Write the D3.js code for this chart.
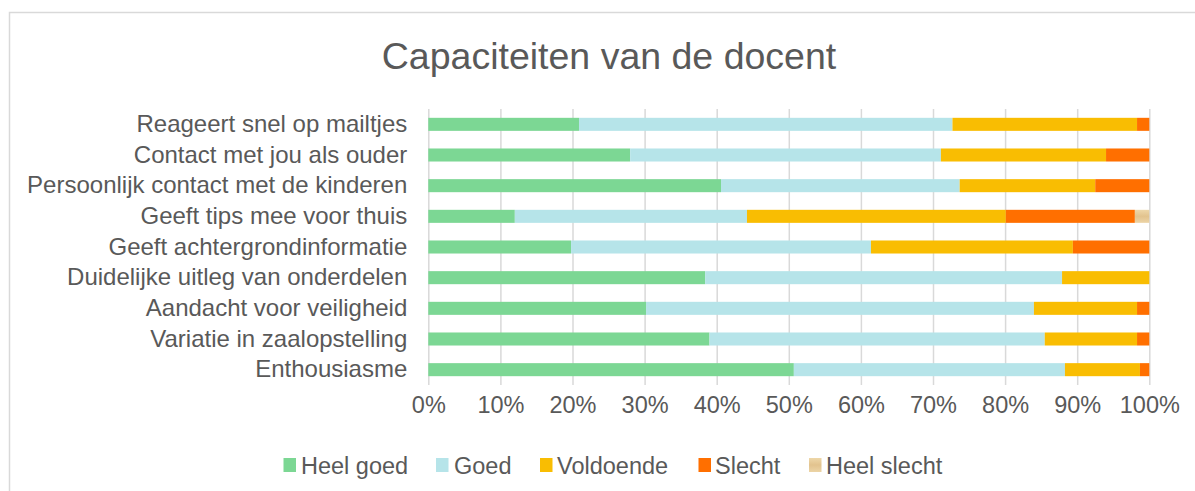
<!DOCTYPE html>
<html>
<head>
<meta charset="utf-8">
<script src="https://cdn.jsdelivr.net/npm/d3@7"></script>
<style>
  html, body { margin: 0; padding: 0; background: #ffffff; }
  svg { display: block; font-family: "Liberation Sans", Arial, sans-serif; }
</style>
</head>
<body>
<svg id="chart" width="1195" height="491"></svg>
<script>
const title = "Capaciteiten van de docent";
const categories = [
  "Reageert snel op mailtjes",
  "Contact met jou als ouder",
  "Persoonlijk contact met de kinderen",
  "Geeft tips mee voor thuis",
  "Geeft achtergrondinformatie",
  "Duidelijke uitleg van onderdelen",
  "Aandacht voor veiligheid",
  "Variatie in zaalopstelling",
  "Enthousiasme"
];
const seriesNames = ["Heel goed", "Goed", "Voldoende", "Slecht", "Heel slecht"];
const heelGoed   = [20.9, 28.0, 40.6, 12.0, 19.8, 38.4, 30.2, 39.0, 50.7];
const goed       = [51.8, 43.1, 33.1, 32.2, 41.6, 49.5, 53.8, 46.5, 37.6];
const voldoende  = [25.6, 22.9, 18.8, 35.9, 28.0, 12.1, 14.3, 12.8, 10.4];
const slecht     = [1.7, 6.0, 7.5, 17.9, 10.6, 0.0, 1.7, 1.7, 1.3];
const heelSlecht = [0.0, 0.0, 0.0, 2.0, 0.0, 0.0, 0.0, 0.0, 0.0];
const tickValues = [0, 10, 20, 30, 40, 50, 60, 70, 80, 90, 100];
const colors = ["#7cd794", "#b6e4e9", "#f9bd02", "#ff6f00", "#e6cb97"];

const seriesArrays = [heelGoed, goed, voldoende, slecht, heelSlecht];
const rows = categories.map((c, i) => {
  const r = { category: c };
  seriesNames.forEach((s, j) => { r[s] = seriesArrays[j][i]; });
  return r;
});

const svg = d3.select("#chart");
const textColor = "#595959";

// outer chart border
svg.append("rect")
  .attr("x", 9.5).attr("y", 12.5)
  .attr("width", 1200).attr("height", 500)
  .attr("fill", "none").attr("stroke", "#d9d9d9").attr("stroke-width", 1.5);

const x = d3.scaleLinear().domain([0, 100]).range([428.3, 1149.3]);
const y = d3.scaleBand().domain(categories).range([109, 385])
  .paddingInner(0.575).paddingOuter(0.2875);

// gridlines + tick labels
const xAxis = d3.axisBottom(x).tickValues(tickValues).tickFormat(d => d + "%")
  .tickSize(-(385 - 109)).tickPadding(11);
const gx = svg.append("g").attr("transform", "translate(0,385)").call(xAxis);
gx.select(".domain").remove();
gx.selectAll(".tick line").attr("stroke", "#d9d9d9").attr("stroke-width", 1.5);
gx.selectAll(".tick text").attr("fill", textColor)
  .style("font-size", "23.5px").style("font-family", "'Liberation Sans', Arial, sans-serif");

// bars
const stack = d3.stack().keys(seriesNames);
const stacked = stack(rows);
const defs = svg.append("defs");
const grad = defs.append("linearGradient").attr("id", "tanGrad")
  .attr("x1", "0").attr("y1", "0").attr("x2", "0").attr("y2", "1");
grad.append("stop").attr("offset", "0%").attr("stop-color", "#eed7a9");
grad.append("stop").attr("offset", "50%").attr("stop-color", "#e2c38e");
grad.append("stop").attr("offset", "100%").attr("stop-color", "#ecd4a6");

svg.append("g").selectAll("g").data(stacked).join("g")
  .attr("fill", (d, i) => i === 4 ? "url(#tanGrad)" : colors[i])
  .selectAll("rect").data(d => d).join("rect")
  .attr("x", d => x(d[0]))
  .attr("width", d => Math.max(0, x(d[1]) - x(d[0])))
  .attr("y", d => y(d.data.category))
  .attr("height", y.bandwidth());

// y labels
const yAxis = d3.axisLeft(y).tickSize(0).tickPadding(21);
const gy = svg.append("g").attr("transform", "translate(428.3,0)").call(yAxis);
gy.select(".domain").remove();
gy.selectAll(".tick text").attr("fill", textColor)
  .style("font-size", "24px").style("font-family", "'Liberation Sans', Arial, sans-serif");

// title
svg.append("text")
  .attr("x", 609).attr("y", 69)
  .attr("text-anchor", "middle")
  .attr("fill", textColor)
  .style("font-size", "37.5px")
  .text(title);

// legend
const legendItems = [
  { name: "Heel goed", sx: 283.5, tx: 301 },
  { name: "Goed", sx: 436, tx: 454 },
  { name: "Voldoende", sx: 540, tx: 557 },
  { name: "Slecht", sx: 698.5, tx: 715 },
  { name: "Heel slecht", sx: 809, tx: 826 }
];
const lg = svg.append("g");
legendItems.forEach((it, i) => {
  lg.append("rect").attr("x", it.sx).attr("y", 458).attr("width", 12.5).attr("height", 14)
    .attr("fill", i === 4 ? "url(#tanGrad)" : colors[i]);
  lg.append("text").attr("x", it.tx).attr("y", 473.5)
    .attr("fill", textColor).style("font-size", "23.5px").text(it.name);
});
</script>
</body>
</html>
